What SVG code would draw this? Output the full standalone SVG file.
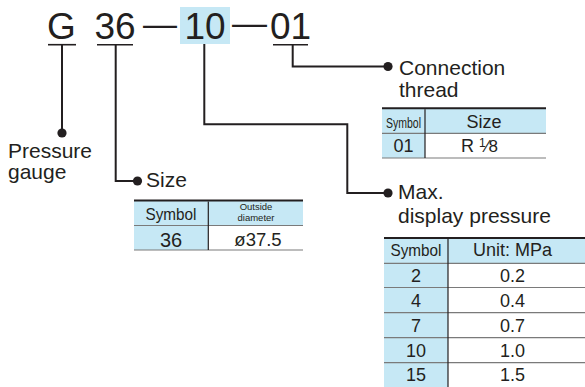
<svg xmlns="http://www.w3.org/2000/svg" width="585" height="387" viewBox="0 0 585 387">
<style>
text{font-family:"Liberation Sans",Arial,sans-serif;fill:#231f20}
.big{font-size:37px}
.lbl{font-size:21px}
.c{text-anchor:middle}
.hl{fill:#c6e8f5}
.top{stroke:#231f20;stroke-width:2}
.row{stroke:#7a7a7a;stroke-width:1.2}
.col{stroke:#231f20;stroke-width:1.2}
.ul{stroke:#231f20;stroke-width:1.6}
.con{fill:none;stroke:#231f20;stroke-width:2}
.dot{fill:#231f20}
.t18{font-size:18px}
.tiny{font-size:9.5px}
</style>
<rect width="585" height="387" fill="#ffffff"/>
<g id="code">
<rect class="hl" x="180" y="7" width="50" height="37"/>
<text class="big c" x="61.5" y="39">G</text>
<text class="big c" x="115" y="39">36</text>
<text x="143" y="34.5" style="font-size:34px">—</text>
<text class="big c" x="205" y="39">10</text>
<text x="232" y="34.5" style="font-size:35px">—</text>
<text class="big c" x="290.5" y="39">01</text>
<line class="ul" x1="48" y1="44.7" x2="76" y2="44.7"/>
<line class="ul" x1="97" y1="44.7" x2="133" y2="44.7"/>
<line class="ul" x1="273" y1="44.7" x2="308" y2="44.7"/>
</g>
<g id="connectors">
<polyline class="con" points="62,45 62,133"/>
<polyline class="con" points="115.7,45 115.7,181 136,181"/>
<polyline class="con" points="204.3,44 204.3,124.3 347.3,124.3 347.3,193 386,193"/>
<polyline class="con" points="292.7,45 292.7,66.5 386,66.5"/>
<circle class="dot" cx="62" cy="133" r="4.6"/>
<circle class="dot" cx="137.5" cy="181" r="4.6"/>
<circle class="dot" cx="388" cy="193" r="4.6"/>
<circle class="dot" cx="388" cy="66.5" r="4.6"/>
</g>
<g id="pressure-gauge">
<text class="lbl" x="8" y="158">Pressure</text>
<text class="lbl" x="8" y="179">gauge</text>
</g>
<g id="size">
<text class="lbl" x="146" y="187">Size</text>
<rect class="hl" x="134" y="200.5" width="169" height="25"/>
<rect class="hl" x="134" y="225.5" width="74" height="24.5"/>
<line class="top" x1="134" y1="200.5" x2="303" y2="200.5"/>
<line class="row" x1="134" y1="225.5" x2="303" y2="225.5"/>
<line class="row" x1="134" y1="250" x2="303" y2="250"/>
<line class="col" x1="208.3" y1="201.5" x2="208.3" y2="250"/>
<text class="c" x="171" y="220" style="font-size:17px" textLength="51" lengthAdjust="spacingAndGlyphs">Symbol</text>
<text class="c tiny" x="256" y="210">Outside</text>
<text class="c tiny" x="256" y="221">diameter</text>
<text class="c" x="171" y="247" style="font-size:20px">36</text>
<text class="c" x="258" y="246" style="font-size:18.5px">ø37.5</text>
</g>
<g id="connection-thread">
<text class="lbl" x="399" y="75">Connection</text>
<text class="lbl" x="399" y="96.5">thread</text>
<rect class="hl" x="382" y="108.3" width="164" height="25"/>
<rect class="hl" x="382" y="133.3" width="43" height="24.7"/>
<line class="top" x1="382" y1="108.3" x2="546" y2="108.3"/>
<line class="row" x1="382" y1="133.3" x2="546" y2="133.3"/>
<line class="row" x1="382" y1="158" x2="546" y2="158"/>
<line class="col" x1="425" y1="109.3" x2="425" y2="158"/>
<text class="c" x="403.5" y="127.5" style="font-size:14px" textLength="35" lengthAdjust="spacingAndGlyphs">Symbol</text>
<text class="c t18" x="484" y="127.5">Size</text>
<text class="c t18" x="403.5" y="152">01</text>
<text class="t18" x="461" y="152">R <tspan style="font-size:12px" dy="-5.5">1</tspan><tspan style="font-size:17px" dy="5.5">⁄8</tspan></text>
</g>
<g id="max-display-pressure">
<text class="lbl" x="398" y="199">Max.</text>
<text class="lbl" x="398" y="223">display pressure</text>
<rect class="hl" x="384" y="238" width="201" height="25.3"/>
<rect class="hl" x="384" y="263.3" width="64" height="124"/>
<line class="top" x1="384" y1="238" x2="585" y2="238"/>
<line class="row" x1="384" y1="263.3" x2="585" y2="263.3"/>
<line class="row" x1="384" y1="287.5" x2="585" y2="287.5"/>
<line class="row" x1="384" y1="312.7" x2="585" y2="312.7"/>
<line class="row" x1="384" y1="337.7" x2="585" y2="337.7"/>
<line class="row" x1="384" y1="362.7" x2="585" y2="362.7"/>
<line class="col" x1="448" y1="239" x2="448" y2="387"/>
<text class="c" x="416" y="256" style="font-size:17px" textLength="51" lengthAdjust="spacingAndGlyphs">Symbol</text>
<text class="c t18" x="512.5" y="256">Unit: MPa</text>
<text class="c t18" x="416" y="281.5">2</text>
<text class="c t18" x="512.5" y="281.5">0.2</text>
<text class="c t18" x="416" y="306.5">4</text>
<text class="c t18" x="512.5" y="306.5">0.4</text>
<text class="c t18" x="416" y="331.5">7</text>
<text class="c t18" x="512.5" y="331.5">0.7</text>
<text class="c t18" x="416" y="356.5">10</text>
<text class="c t18" x="512.5" y="356.5">1.0</text>
<text class="c t18" x="416" y="380.5">15</text>
<text class="c t18" x="512.5" y="380.5">1.5</text>
</g>
</svg>
